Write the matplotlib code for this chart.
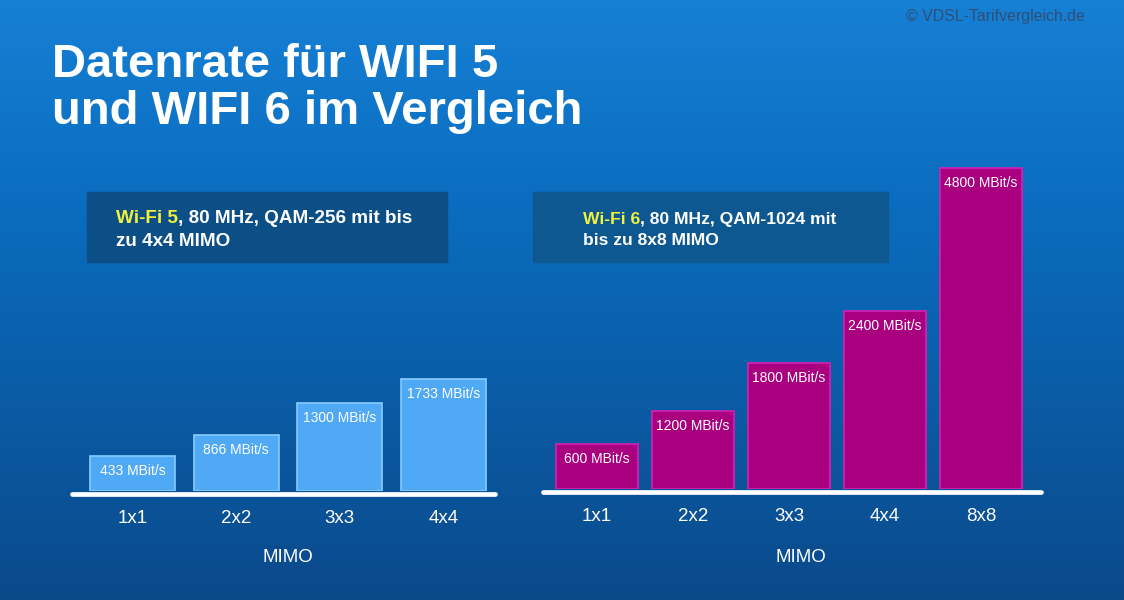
import numpy as np
import matplotlib
matplotlib.use('Agg')
import matplotlib.pyplot as plt
from matplotlib.colors import LinearSegmentedColormap
from matplotlib.patches import Rectangle

plt.rcParams['font.family'] = ['Liberation Sans', 'DejaVu Sans']

# data
wifi5_mimo = ['1x1', '2x2', '3x3', '4x4']
wifi5_rate = [433, 866, 1300, 1733]
# drawn bar heights (the picture is not to scale)
wifi5_height = [35, 56, 88, 112]

wifi6_mimo = ['1x1', '2x2', '3x3', '4x4', '8x8']
wifi6_rate = [600, 1200, 1800, 2400, 4800]
wifi6_height = [45, 78, 126, 178, 321]

W, H = 1124, 600
fig = plt.figure(figsize=(W / 100, H / 100), dpi=100)

# background gradient, pixel coords
bg = fig.add_axes([0, 0, 1, 1])
bg.set_xlim(0, W)
bg.set_ylim(H, 0)
bg.axis('off')
grad = LinearSegmentedColormap.from_list('bg', [(0, '#1680d5'), (0.35, '#0a6cbe'),
                                                (1.0, '#0b4a8b')])
bg.imshow(np.linspace(0, 1, 256).reshape(-1, 1), cmap=grad, aspect='auto',
          extent=[0, W, H, 0], zorder=0)

# title
bg.text(52, 77, 'Datenrate für WIFI 5', color='white', fontsize=34,
        fontweight='bold', va='baseline', ha='left')
bg.text(52, 124, 'und WIFI 6 im Vergleich', color='white', fontsize=34,
        fontweight='bold', va='baseline', ha='left')
bg.text(1085, 17, '© VDSL-Tarifvergleich.de', color='#2f4f78', fontsize=11.4,
        va='center', ha='right')

# info boxes
bg.add_patch(Rectangle((87, 192), 360, 70, color='#0c4e86', zorder=1))
bg.add_patch(Rectangle((533, 192), 355, 70, color='#0d5890', zorder=1))


def info(x, y1, y2, hl, rest, line2, size):
  t = bg.text(x, y1, hl, color='#f2f23c', fontsize=size, fontweight='bold',
              va='baseline', ha='left', zorder=2)
  bg.annotate(rest, xy=(1, 0), xycoords=t, color='white', fontsize=size,
              fontweight='bold', va='bottom', ha='left', zorder=2)
  bg.text(x, y2, line2, color='white', fontsize=size, fontweight='bold',
          va='baseline', ha='left', zorder=2)


info(116, 223, 246, 'Wi-Fi 5', ', 80 MHz, QAM-256 mit bis', 'zu 4x4 MIMO', 13.6)
info(583, 224, 245, 'Wi-Fi 6', ', 80 MHz, QAM-1024 mit', 'bis zu 8x8 MIMO', 12.6)


def chart(left, right, base, top, xmin, xmax, labels, heights, rates,
          face, edge, mimo_x, bw):
  ax = fig.add_axes([left / W, (H - base) / H, (right - left) / W, (base - top) / H])
  ax.set_xlim(xmin, xmax)
  ax.set_ylim(0, base - top)
  ax.patch.set_alpha(0)
  for s in ax.spines.values():
    s.set_visible(False)
  ax.set_yticks([])
  x = np.arange(len(labels))
  ax.bar(x, heights, width=bw, color=face, edgecolor=edge, linewidth=1.2)
  for xi, h, r in zip(x, heights, rates):
    ax.text(xi, h - 15, '%d MBit/s' % r, color='white', fontsize=10,
            ha='center', va='center')
  ax.plot([xmin, xmax], [-2.5, -2.5], color='white', lw=3.4,
          solid_capstyle='round', clip_on=False)
  ax.set_xticks(x)
  ax.set_xticklabels(labels, color='white', fontsize=13.5)
  ax.tick_params(axis='x', length=0, pad=14)
  ax.text((mimo_x - left) / (right - left), -(557 - base) / (base - top), 'MIMO',
          transform=ax.transAxes, color='white', fontsize=13.5,
          ha='center', va='center')
  return ax


chart(72, 495, 491, 150, -0.583, 3.497, wifi5_mimo, wifi5_height, wifi5_rate,
      '#50a9f5', '#86ccff', 288, 0.82)
chart(543, 1041, 489, 150, -0.5625, 4.625, wifi6_mimo, wifi6_height, wifi6_rate,
      '#a9007f', '#d520b8', 801, 0.86)

fig.savefig('out.png', dpi=100)
